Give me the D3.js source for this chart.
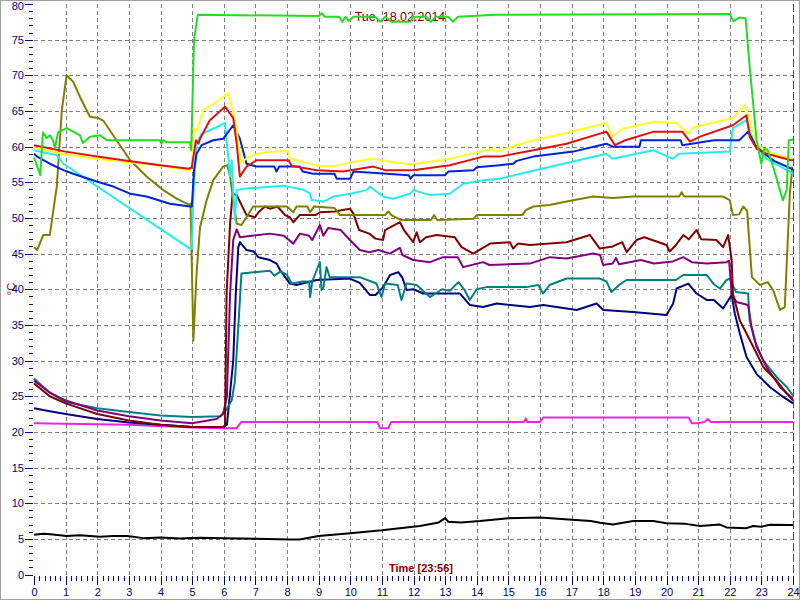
<!DOCTYPE html>
<html><head><meta charset="utf-8">
<script src="https://cdn.jsdelivr.net/npm/d3@7"></script>
<style>body{margin:0;background:#fff}svg{display:block}</style>
</head><body>
<svg id="c" width="800" height="600"></svg>
<script>
const titleText = "Tue, 18.02.2014";
const xLabel = "Time [23:56]";
const yLabel = "°C";
const xTicks = d3.range(0, 25, 1);
const yTicks = d3.range(0, 81, 5);

const greenS = [[0,58.5],[0.2,56],[0.28,62],[0.4,61.2],[0.5,61.6],[0.6,60.9],[0.66,59.8],[0.76,62],[1.03,62.6],[1.45,61.6],[1.55,60.5],[1.77,61.4],[2.09,61.6],[2.31,60.9],[3.98,60.9],[4.03,60.4],[4.08,60.9],[4.2,60.6],[4.93,60.6],[4.97,59.5],[5.06,75],[5.18,78.5],[9.0,78.3],[9.1,78.7],[9.2,78.2],[9.65,78.2],[9.75,77.5],[9.85,78.2],[9.95,77.6],[10.1,78.2],[10.8,78.2],[10.95,77.5],[11.1,78.2],[11.3,77.5],[11.9,77.5],[12.0,78.2],[12.4,78.2],[12.55,77.5],[12.7,78.2],[13.1,78.2],[13.25,77.5],[13.4,78.2],[14.6,78.5],[22.0,78.6],[22.12,77.6],[22.3,78.1],[22.5,78],[22.63,71.2],[22.85,60.9],[23.0,57.6],[23.1,59.8],[23.2,59.5],[23.37,57.2],[23.68,52.5],[23.8,53.9],[23.87,60.9],[24,61]];
const yellowS = [[0,59.8],[1,58.9],[2,58.3],[3,57.8],[4,57.3],[4.9,56.7],[4.99,57.2],[5.06,62.5],[5.14,62.1],[5.35,65.1],[5.78,66.3],[6.14,67.5],[6.25,65.6],[6.35,64],[6.56,57.8],[6.8,58.6],[7.25,59.2],[8.03,59.4],[8.1,58.3],[8.5,57.9],[9.0,57.3],[9.57,57.3],[10.0,57.8],[10.7,58.3],[11.25,57.9],[11.9,57.5],[13.15,58.3],[14.1,59.3],[14.5,59.7],[14.6,59.3],[15.26,60.2],[15.79,60.9],[16.84,61.9],[18.1,63.3],[18.3,61.4],[18.6,62.5],[19.6,63.5],[20.3,63.3],[20.7,61.8],[20.84,62.7],[21.6,63.5],[22.1,64],[22.48,65.8],[22.58,64.4],[22.85,60.4],[23.16,59.3],[23.95,58.3],[24,58.2]];
const redS = [[0,60.2],[1,59.3],[2,58.6],[3,58],[4,57.4],[4.9,56.9],[4.99,57.1],[5.12,60.9],[5.2,60.4],[5.25,61.1],[5.56,63.7],[6.04,65.6],[6.3,64],[6.41,60.4],[6.51,55.8],[6.72,57.2],[7.04,58.1],[8.05,58.1],[8.15,57.3],[8.94,56.7],[9.78,56.5],[10.73,57.2],[11.1,56.7],[11.99,56.7],[13.15,57.4],[14.2,58.6],[14.73,58.6],[15.79,59.5],[16.84,60.4],[18.1,62.1],[18.37,60.2],[18.7,60.9],[19.6,62.1],[20.5,62.1],[20.74,60.7],[21.06,61.4],[22.1,63],[22.53,64.4],[22.63,61.4],[22.85,59.7],[23.16,59],[23.95,58.1],[24,58.1]];
const blueS = [[0,59.0],[0.1,58.6],[0.5,57.6],[0.93,56.7],[1.24,56.2],[1.98,55.1],[2.51,54.4],[3.04,53.4],[3.56,53],[4.3,52],[4.93,51.6],[4.99,51.6],[5.06,56.7],[5.14,59],[5.3,60.2],[5.67,60.9],[5.98,61.1],[6.3,63],[6.51,61.1],[6.72,57.6],[7.04,57.2],[7.6,57.2],[7.67,56.5],[7.75,57.2],[8.4,57.2],[8.5,56.5],[8.83,56.2],[9.5,56.2],[9.57,55.5],[10.0,55.5],[10.1,56.5],[11.85,56.0],[11.9,55.5],[12.0,56.0],[13.0,56.0],[13.1,56.5],[13.9,56.7],[14.0,57.1],[14.73,57.4],[15.15,57.6],[15.26,58],[15.79,58.6],[17.05,59.3],[18.1,60.4],[18.3,60],[19.15,60],[19.19,60.9],[20.45,60.9],[20.5,60.2],[21.5,60.9],[22.3,60.9],[22.58,62.1],[22.85,60],[23.16,58.8],[23.4,58],[23.95,56.9],[24,56.8]];
const cyanS = [[0,59.5],[0.5,59],[0.72,58.8],[0.93,57.6],[4.93,45.7],[4.99,45.7],[5.04,53.4],[5.14,60.4],[5.3,61.8],[5.56,62.3],[6.04,63.3],[6.09,60.9],[6.2,55.8],[6.25,58.1],[6.35,49.7],[6.41,53.9],[6.62,54.1],[7.88,54.5],[8.5,54],[8.73,53.4],[8.78,52.5],[9.15,52.3],[9.46,53],[10.0,53.4],[10.52,53.9],[10.62,54.4],[11.04,53],[11.36,52.7],[11.89,53.4],[12.0,53.9],[12.52,53.2],[13.15,53.4],[13.57,54.8],[14.2,55.3],[14.73,55.5],[15.68,56.5],[18.1,59],[18.3,58.3],[19.58,59.5],[20.2,58.3],[20.4,59],[22.0,59.3],[22.1,62.6],[22.53,63.7],[22.74,60.9],[23.16,58.3],[24,56.2]];
const oliveS = [[0,45.9],[0.1,45.5],[0.29,47.6],[0.5,47.6],[0.72,54.4],[0.88,65.1],[1.03,70],[1.24,69.1],[1.45,67],[1.77,64.2],[2.03,64],[2.2,63.6],[2.61,60.9],[3.04,58.1],[3.56,55.8],[4.09,53.9],[4.51,52.7],[4.93,51.8],[4.95,52],[5.04,32.8],[5.14,42.2],[5.25,48.7],[5.46,52.5],[5.67,55.3],[5.98,57.2],[6.11,57.4],[6.2,55.8],[6.3,52.5],[6.41,49.2],[6.56,49],[6.72,50.1],[6.93,51.6],[8.0,51.6],[8.2,50.8],[8.3,51.6],[8.65,51.6],[8.73,50.8],[8.85,51.6],[9.5,51.4],[9.67,50.4],[11.1,50.4],[11.2,50.9],[11.3,50.4],[11.6,49.7],[12.55,49.7],[12.65,50.4],[12.75,49.7],[13.9,49.9],[14.0,50.4],[15.45,50.4],[15.55,51.1],[15.79,51.6],[16.3,51.8],[16.84,52.3],[17.68,53],[18.3,52.8],[18.95,53],[20.4,53],[20.48,53.6],[20.56,53],[21.79,53],[22.0,52.5],[22.1,50.4],[22.3,50.5],[22.43,51.6],[22.55,51],[22.7,41.7],[22.95,40.6],[23.2,41],[23.37,39.9],[23.59,37.1],[23.74,37.5],[23.9,53.4],[23.98,57.2]];
const maroonS = [[0,26.8],[0.5,25],[1,24],[2,22.5],[3,21.6],[4,21],[5,20.7],[6.0,20.7],[6.04,21],[6.09,39.4],[6.2,49.2],[6.28,53.4],[6.41,53.2],[6.72,50.4],[6.99,50.1],[7.1,50.8],[7.3,51.6],[7.46,51.3],[7.7,51.6],[7.94,50.4],[8.09,50.1],[8.2,49.4],[8.4,50.4],[8.9,50.4],[9.04,50.8],[9.5,50.9],[9.99,51.3],[10.1,50.6],[10.28,48.3],[10.6,47.8],[10.8,47.1],[11.04,46.9],[11.1,48.3],[11.57,49.4],[11.7,48.3],[11.99,46.6],[12.1,48],[12.2,46.6],[12.4,47.3],[12.73,47.6],[13.3,47.3],[13.52,45.9],[13.89,45],[14.42,46.4],[15.05,46.6],[15.15,45.7],[15.3,46.4],[15.68,46.2],[16.84,46.6],[17.58,47.6],[17.89,45.7],[18.3,46],[18.6,46.6],[18.74,45.2],[19.05,46.9],[19.3,47.3],[20.0,46.2],[20.1,45.3],[20.3,46.2],[20.53,47.6],[20.7,47],[20.95,48.3],[21.1,47],[21.58,46.9],[21.79,45.9],[21.95,47.6],[22.06,44.1],[22.1,39.4],[22.32,35.6],[22.53,33.8],[22.85,31],[23.06,29.1],[23.48,27.2],[23.8,25.4],[24,24.4]];
const purpleS = [[0,27.2],[0.5,25.5],[1,24.4],[2,23],[3,22.2],[4,21.6],[5,21.2],[5.77,21.8],[5.98,22.5],[6.1,25],[6.2,39.4],[6.3,46.9],[6.41,48.4],[6.51,47.3],[7.46,47.8],[7.9,47.5],[8.2,46.4],[8.41,47.8],[8.7,47.5],[8.8,46.9],[9.04,49],[9.15,47.5],[9.3,48.6],[9.7,48.3],[9.99,46.9],[10.3,45.5],[10.6,45.2],[10.9,45.5],[11.25,45],[11.57,45.8],[11.65,44.8],[11.99,44.1],[12.52,43.8],[12.94,44.5],[13.4,44.5],[13.57,43.1],[14.2,43.8],[14.4,43.4],[15.68,43.6],[16.31,44.5],[16.84,44.3],[17.68,45],[17.9,44.8],[18.0,43.4],[18.3,43.6],[18.4,44.4],[18.5,43.5],[19.19,44.1],[19.6,43.6],[20.2,43.9],[20.53,44.5],[20.8,43.8],[21.27,43.6],[21.9,43.8],[21.98,44],[22.06,39.4],[22.21,38.2],[22.58,37.8],[22.69,34.7],[22.85,31.9],[23.16,29.1],[23.59,26.3],[24,24.6]];
const tealS = [[0,27.5],[0.5,25.5],[1,24.2],[2,23.3],[3,22.8],[4,22.3],[5,22.1],[5.9,22.2],[6.09,23.2],[6.25,24.4],[6.35,27],[6.46,34.7],[6.56,42.2],[7.46,42.6],[7.6,41.9],[7.8,42.5],[8.0,42],[8.15,40.8],[8.5,41.1],[8.7,41.1],[8.73,38.9],[8.8,41.1],[8.94,42.7],[9.04,43.8],[9.09,39.9],[9.15,40.2],[9.25,43.1],[9.35,41.7],[10.3,41.7],[10.83,40.8],[10.99,38.9],[11.1,40.8],[11.5,40.6],[11.62,38.5],[11.78,40.8],[12.1,40.6],[12.3,39.8],[12.52,38.9],[12.9,40],[13.15,39.8],[13.42,41],[13.6,40],[13.78,38.5],[14.0,40],[14.31,40.3],[15.57,40.3],[15.95,40.6],[16.1,39.4],[16.3,40.6],[16.84,41.5],[17.89,41.5],[18.1,41.1],[18.26,39.6],[18.5,40.6],[18.74,41.3],[20.3,41.3],[20.53,42],[21.27,42],[21.5,40.7],[21.69,40.1],[21.9,41.3],[22.0,41.5],[22.2,39.6],[22.58,39.4],[22.63,35.6],[22.79,32.8],[23.06,30],[23.48,27.7],[23.8,26.3],[24,25.1]];
const navyS = [[0,23.3],[0.5,22.9],[1,22.5],[2,21.8],[3,21.3],[4,21],[5,20.7],[6.0,20.7],[6.1,21],[6.3,30],[6.38,39.4],[6.46,45.9],[6.51,46.6],[6.72,45.5],[6.95,45.3],[7.09,44.5],[7.46,44.1],[7.67,43.6],[7.78,42.7],[8.09,40.8],[8.3,40.6],[8.94,41.3],[9.99,41.5],[10.3,40.9],[10.62,39.2],[10.8,39.2],[11.04,40.3],[11.26,42],[11.52,42.4],[11.65,41.6],[11.78,39.9],[12.0,40],[12.31,39.4],[13.47,39.4],[13.78,37.8],[14.2,37.5],[14.63,38],[15.68,37.5],[16.1,37.8],[17.16,37.1],[17.79,38],[18.0,37.1],[18.95,36.8],[20.0,36.4],[20.21,38],[20.32,40.1],[20.69,40.8],[20.95,39.4],[21.27,38.5],[21.5,38.5],[21.79,37.3],[22.06,39.2],[22.16,36.6],[22.32,33.8],[22.53,30.5],[22.85,28.1],[23.27,26.3],[23.69,24.9],[24,24]];
const magentaS = [[0,21.2],[3,21],[5,20.6],[6.0,20.5],[6.4,20.5],[6.56,21.4],[10.85,21.4],[10.95,20.5],[11.2,20.5],[11.3,21.4],[15.5,21.4],[15.55,21.9],[15.6,21.4],[16.0,21.4],[16.1,22],[20.7,22],[20.8,21.2],[21.0,21.2],[21.2,21.4],[21.3,21.8],[21.4,21.4],[24,21.4]];
const blackS = [[0,5.57],[0.3,5.7],[0.6,5.6],[1.03,5.4],[1.45,5.5],[2.09,5.3],[2.5,5.4],[2.95,5.4],[3.46,5.1],[4.0,5.2],[4.62,5.05],[5.25,5.15],[6,5.1],[7,5.0],[8.1,4.9],[8.4,4.9],[9,5.4],[10,5.8],[11,6.2],[12.2,6.8],[12.8,7.3],[13,7.9],[13.1,7.4],[13.5,7.3],[14.1,7.5],[15,7.9],[16,8.0],[16.9,7.7],[17.6,7.5],[17.9,7.25],[18.3,7.0],[18.95,7.5],[19.58,7.5],[20,7.2],[20.6,7.1],[21.06,6.8],[21.69,7.0],[21.9,6.6],[22.53,6.5],[22.74,6.8],[23,6.7],[23.27,6.97],[24,6.95]];

const seriesList = [
  {d: magentaS, c: "#ee22ee"},
  {d: blackS, c: "#000000"},
  {d: navyS, c: "#000080"},
  {d: tealS, c: "#008080"},
  {d: purpleS, c: "#800080"},
  {d: maroonS, c: "#800000"},
  {d: oliveS, c: "#808000"},
  {d: cyanS, c: "#22eeee"},
  {d: blueS, c: "#0022d8"},
  {d: yellowS, c: "#ffff22"},
  {d: redS, c: "#e01010"},
  {d: greenS, c: "#22dd22"}
];

const svg = d3.select("#c");
const x = d3.scaleLinear().domain([0, 24]).range([34, 793]);
const y = d3.scaleLinear().domain([0, 80]).range([574.5, 4]);

svg.append("rect").attr("x",0.5).attr("y",0.5).attr("width",799).attr("height",599)
  .attr("fill","#fff").attr("stroke","#a0a0a0");

// grid
const g = svg.append("g").attr("stroke","#808080").attr("stroke-dasharray","4,3").attr("shape-rendering","crispEdges");
xTicks.filter(t => t > 0 && t < 24).forEach(t => {
  g.append("line").attr("x1", Math.round(x(t))+0.5).attr("x2", Math.round(x(t))+0.5).attr("y1", y(80)).attr("y2", y(0));
});
yTicks.filter(t => t > 0 && t < 80).forEach(t => {
  g.append("line").attr("x1", x(0)).attr("x2", x(24)).attr("y1", Math.round(y(t))+0.5).attr("y2", Math.round(y(t))+0.5);
});
svg.append("line").attr("x1", x(24)).attr("x2", x(24)).attr("y1", y(80)).attr("y2", y(0)+10)
  .attr("stroke","#008000").attr("stroke-dasharray","8,3").attr("shape-rendering","crispEdges");

// title
svg.append("text").attr("x", 400).attr("y", 21).attr("text-anchor","middle")
  .attr("font-family","Liberation Sans, Arial, sans-serif").attr("font-size", 12.5)
  .attr("fill","#800000").text(titleText);

// axes
const axisFont = "Liberation Sans, Arial, sans-serif";
const yMinor = svg.append("g").attr("transform","translate(33,0)")
  .call(d3.axisLeft(y).tickValues(d3.range(0,81,1)).tickSize(4).tickFormat(""));
const yMajor = svg.append("g").attr("transform","translate(33,0)")
  .call(d3.axisLeft(y).tickValues(yTicks).tickSize(8).tickPadding(1));
const xMinor = svg.append("g").attr("transform","translate(0,576)")
  .call(d3.axisBottom(x).tickValues(d3.range(0,24.01,1/6)).tickSize(5).tickFormat(""));
const xMajor = svg.append("g").attr("transform","translate(0,576)")
  .call(d3.axisBottom(x).tickValues(xTicks).tickSize(9).tickPadding(3));
[yMinor,yMajor,xMinor,xMajor].forEach(a => {
  a.select(".domain").remove();
  a.selectAll("line").attr("stroke","#000080").attr("shape-rendering","crispEdges");
  a.selectAll("text").attr("fill","#000080").attr("font-size",11).attr("font-family",axisFont);
});
yMajor.selectAll(".tick text").filter(d => d === 80).attr("dy", "0.5em");

// lines
const line = d3.line().x(d => x(d[0])).y(d => y(d[1]));
seriesList.forEach(s => {
  svg.append("path").datum(s.d).attr("d", line).attr("fill","none")
    .attr("stroke", s.c).attr("stroke-width", 2).attr("stroke-linejoin","round");
});

// labels
svg.append("text").attr("x", 421).attr("y", 572).attr("text-anchor","middle")
  .attr("font-family",axisFont).attr("font-size",11).attr("font-weight","bold")
  .attr("fill","#800000").text(xLabel);
svg.append("text").attr("transform","translate(15,289) rotate(-90)").attr("text-anchor","middle")
  .attr("font-family",axisFont).attr("font-size",11)
  .attr("fill","#800000").text(yLabel);
</script>
</body></html>
